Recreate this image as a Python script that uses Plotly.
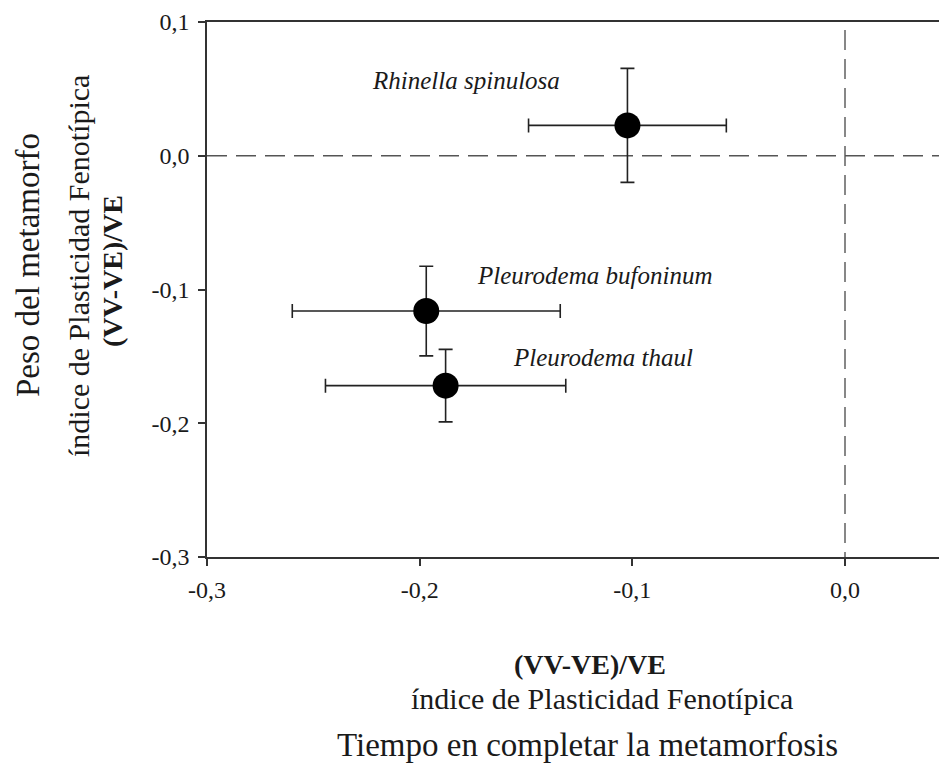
import plotly.graph_objects as go

species = ["Rhinella spinulosa", "Pleurodema bufoninum", "Pleurodema thaul"]
x_vals = [-0.1023, -0.1969, -0.1878]
x_err = [0.0465, 0.063, 0.0565]
y_vals = [0.0227, -0.1161, -0.1719]
y_err = [0.0426, 0.0335, 0.0271]

x_ticks = [-0.3, -0.2, -0.1, 0.0]
x_tick_text = ["-0,3", "-0,2", "-0,1", "0,0"]
y_ticks = [-0.3, -0.2, -0.1, 0.0, 0.1]
y_tick_text = ["-0,3", "-0,2", "-0,1", "0,0", "0,1"]

label_pos = [(-0.1784, 0.0566), (-0.1176, -0.0892), (-0.1139, -0.1512)]

FONT = "Liberation Serif"
INK = "#1a1a1a"

fig = go.Figure()

# reference dashed lines
fig.add_trace(go.Scatter(x=[-0.3, 0.0442], y=[0, 0], mode="lines",
                         line=dict(color="#555", width=1.4, dash="20px,9px"),
                         hoverinfo="skip", showlegend=False))
fig.add_trace(go.Scatter(x=[0, 0], y=[0.094, -0.3], mode="lines",
                         line=dict(color="#555", width=1.4, dash="20px,9px"),
                         hoverinfo="skip", showlegend=False))

fig.add_trace(go.Scatter(
    x=x_vals, y=y_vals, mode="markers",
    marker=dict(size=26, color="black"),
    error_x=dict(type="data", array=x_err, color="#222", thickness=1.6, width=7),
    error_y=dict(type="data", array=y_err, color="#222", thickness=1.6, width=7),
    showlegend=False))

for name, (lx, ly) in zip(species, label_pos):
    fig.add_annotation(x=lx, y=ly, text="<i>%s</i>" % name, showarrow=False,
                       xanchor="center", yanchor="middle",
                       font=dict(family=FONT, size=25, color=INK))

fig.update_layout(
    width=939, height=765,
    margin=dict(l=207, r=0, t=22, b=208),
    paper_bgcolor="white", plot_bgcolor="white",
    font=dict(family=FONT, size=24, color=INK),
    xaxis=dict(range=[-0.3, 0.0442], tickvals=x_ticks, ticktext=x_tick_text,
               showgrid=False, zeroline=False, showline=True, linecolor="#333",
               linewidth=1.6, mirror=True, ticks="outside", ticklen=7,
               tickcolor="#333", tickwidth=1.6, ticklabelstandoff=3,
               tickfont=dict(family=FONT, size=24, color=INK)),
    yaxis=dict(range=[-0.3, 0.1], tickvals=y_ticks, ticktext=y_tick_text,
               showgrid=False, zeroline=False, showline=True, linecolor="#333",
               linewidth=1.6, ticks="outside", ticklen=7,
               tickcolor="#333", tickwidth=1.6, ticklabelstandoff=4,
               tickfont=dict(family=FONT, size=24, color=INK)),
)

def px_to_paper_x(px):
    return (px - 207) / (939 - 207)

def px_to_paper_y(py):
    return (557 - py) / (557 - 22)

titles_x = [
    ("<b>(VV-VE)/VE</b>", 590, 664, 28),
    ("índice de Plasticidad Fenotípica", 602, 698, 30),
    ("Tiempo en completar la metamorfosis", 587, 745, 33),
]
for t, px, py, s in titles_x:
    fig.add_annotation(x=px_to_paper_x(px), y=px_to_paper_y(py), xref="paper", yref="paper",
                       text=t, showarrow=False, xanchor="center", yanchor="middle",
                       font=dict(family=FONT, size=s, color=INK))

titles_y = [
    ("Peso del metamorfo", 28, 265, 33),
    ("índice de Plasticidad Fenotípica", 78, 266, 30),
    ("<b>(VV-VE)/VE</b>", 112, 271, 28),
]
for t, px, py, s in titles_y:
    fig.add_annotation(x=px_to_paper_x(px), y=px_to_paper_y(py), xref="paper", yref="paper",
                       text=t, showarrow=False, textangle=-90,
                       xanchor="center", yanchor="middle",
                       font=dict(family=FONT, size=s, color=INK))

fig.write_html("out.html")
